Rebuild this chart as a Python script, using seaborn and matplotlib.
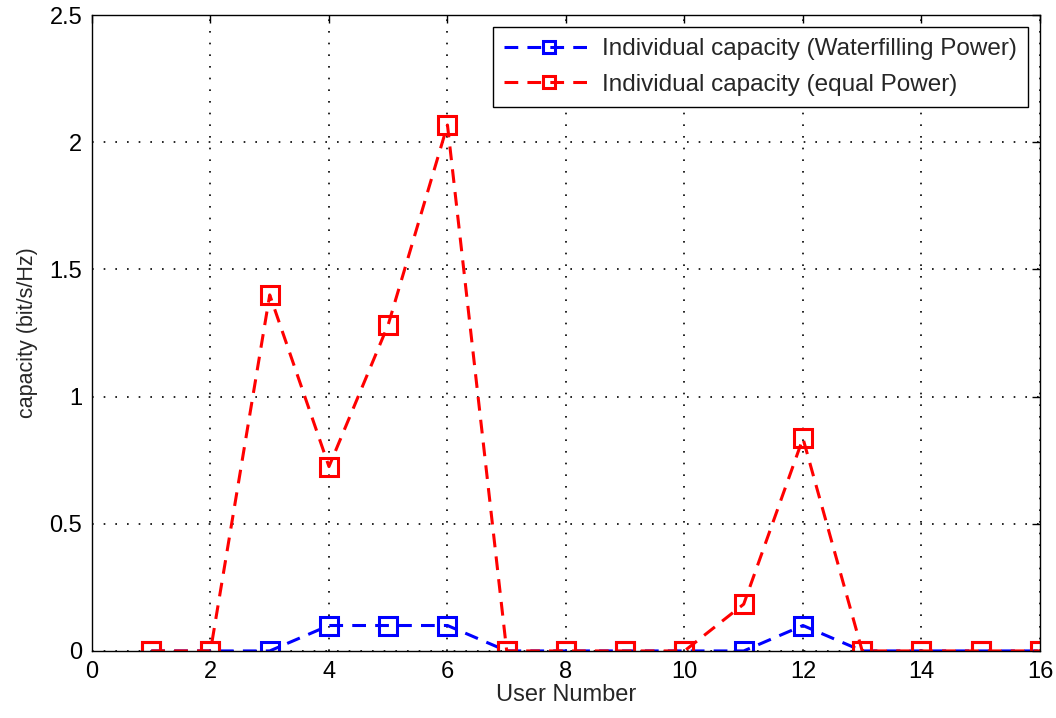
import numpy as np
import pandas as pd
import matplotlib
matplotlib.use("Agg")
import matplotlib.pyplot as plt
import seaborn as sns

users = list(range(1, 17))
cap_waterfilling = [0, 0, 0, 0.1, 0.1, 0.1, 0, 0, 0, 0, 0, 0.1, 0, 0, 0, 0]
cap_equal = [0, 0, 1.40, 0.725, 1.283, 2.068, 0, 0, 0, 0, 0.184, 0.836, 0, 0, 0, 0]
label_wf = "Individual capacity (Waterfilling Power)"
label_eq = "Individual capacity (equal Power)"
x_ticks = [0, 2, 4, 6, 8, 10, 12, 14, 16]
y_ticks = [0, 0.5, 1, 1.5, 2, 2.5]
y_tick_labels = ["0", "0.5", "1", "1.5", "2", "2.5"]

sns.set_style("white")
plt.rcParams["font.family"] = ["Liberation Sans", "DejaVu Sans"]

fig = plt.figure(figsize=(10.56, 7.18), dpi=100)
ax = fig.add_axes([0.0871, 0.0934, 0.8977, 0.8855])

df_wf = pd.DataFrame({"user": users, "cap": cap_waterfilling})
df_eq = pd.DataFrame({"user": users, "cap": cap_equal})

common = dict(marker="s", markersize=12.5, markerfacecolor="none", markeredgewidth=2.2,
              linewidth=2.2, ax=ax)
sns.lineplot(data=df_wf, x="user", y="cap", color="#0000ff", label=label_wf,
             markeredgecolor="#0000ff", dashes=False, **common)
sns.lineplot(data=df_eq, x="user", y="cap", color="#ff0000", label=label_eq,
             markeredgecolor="#ff0000", dashes=False, **common)
for line in ax.get_lines():
    line.set_linestyle((0, (4.5, 3)))

ax.set_xlim(0, 16)
ax.set_ylim(0, 2.5)
ax.set_xticks(x_ticks)
ax.set_xticklabels([str(t) for t in x_ticks])
ax.set_yticks(y_ticks)
ax.set_yticklabels(y_tick_labels)
ax.grid(True, color="black", linestyle=(0, (1, 6)), linewidth=1.2)
ax.tick_params(direction="in", length=6, width=1, colors="black", labelsize=17,
               top=True, right=True, pad=7)
for s in ax.spines.values():
    s.set_visible(True)
    s.set_color("black")
    s.set_linewidth(1.0)

ax.set_xlabel("User Number", fontsize=17, labelpad=1)
ax.set_ylabel("capacity (bit/s/Hz)", fontsize=15.5, labelpad=8)

leg = ax.legend(loc="upper right", fontsize=17.5, frameon=True, fancybox=False,
                edgecolor="black", framealpha=1, borderaxespad=0.5,
                handlelength=3.7, handletextpad=0.35, borderpad=0.45, labelspacing=0.55)
leg.get_frame().set_linewidth(1.0)
for h in leg.legend_handles:
    h.set_markersize(9)

fig.savefig("out.png", dpi=100)
